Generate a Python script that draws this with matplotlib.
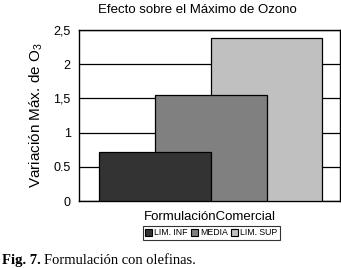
import numpy as np
import matplotlib
matplotlib.use('Agg')
import matplotlib.pyplot as plt
from matplotlib.patches import Patch

plt.rcParams['font.family'] = ['Liberation Sans', 'DejaVu Sans']
plt.rcParams['mathtext.fontset'] = 'custom'
plt.rcParams['mathtext.rm'] = 'Liberation Sans'
plt.rcParams['mathtext.it'] = 'Liberation Sans'

categoria = 'FormulaciónComercial'
series = ['LIM. INF', 'MEDIA', 'LIM. SUP']
valores = [0.72, 1.55, 2.39]
colores = ['#333333', '#808080', '#c0c0c0']
yticks = [0, 0.5, 1, 1.5, 2, 2.5]
yticklabels = ['0', '0.5', '1', '1,5', '2', '2,5']

fig = plt.figure(figsize=(3.41, 2.68), dpi=100)
ax = fig.add_axes([0.232, 0.25, 0.765, 0.638])

ancho = 0.4
offs = [-0.2, 0.0, 0.2]
# light bar at the back, dark one in front
for i in [2, 1, 0]:
    ax.bar(offs[i], valores[i], width=ancho, color=colores[i],
           edgecolor='black', linewidth=0.9, zorder=3 + (2 - i))

ax.set_xlim(-0.47, 0.4625)
ax.set_ylim(0, 2.5)
ax.set_yticks(yticks)
ax.set_yticklabels(yticklabels, fontsize=9)
ax.set_xticks([])
ax.yaxis.grid(True, color='black', linewidth=0.9, zorder=0)
ax.tick_params(axis='y', length=0, pad=6)
for s in ax.spines.values():
    s.set_linewidth(1.0)

ax.set_ylabel('Variación Máx. de O$_3$', fontsize=11, labelpad=6)
ax.set_xlabel(categoria, fontsize=9.5, labelpad=7)
fig.text(0.578, 0.962, 'Efecto sobre el Máximo de Ozono', fontsize=9.5,
         ha='center', va='center')

handles = [Patch(facecolor=c, edgecolor='black', linewidth=0.8) for c in colores]
leg = fig.legend(handles, series, loc='center', bbox_to_anchor=(0.62, 0.131),
                 ncol=3, fontsize=6.3, frameon=True, fancybox=False,
                 handlelength=0.8, handleheight=0.8, handletextpad=0.2,
                 columnspacing=0.4, borderpad=0.25, borderaxespad=0)
leg.get_frame().set_edgecolor('black')
leg.get_frame().set_linewidth(0.8)

fig.text(0.005, 0.016, 'Fig. 7.', fontsize=10.5, family='Liberation Serif',
         weight='bold', ha='left', va='baseline')
fig.text(0.129, 0.016, 'Formulación con olefinas.', fontsize=10.5,
         family='Liberation Serif', ha='left', va='baseline')

fig.savefig('out.png', dpi=100)
